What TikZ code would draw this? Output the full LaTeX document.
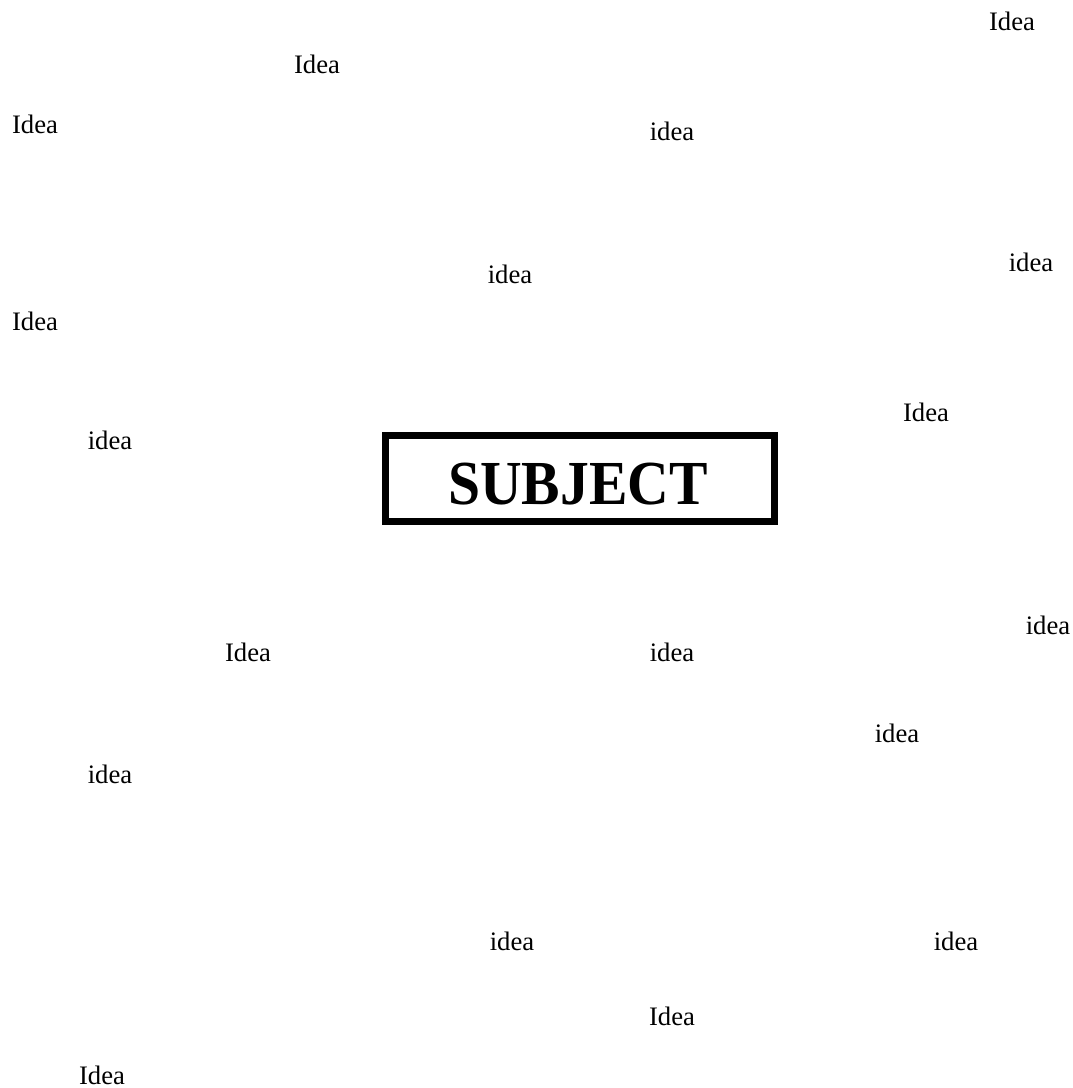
\documentclass[tikz,border=0pt]{standalone}
\usepackage{fontspec}
\setmainfont{Liberation Serif}
\usepackage{graphicx}
\usepackage{tikz}

\begin{document}
\begin{tikzpicture}[x=0.75pt, y=-0.75pt, every node/.style={font=\fontsize{20}{24}\selectfont, inner sep=0pt}, subjbox/.style={draw, line width=5pt, minimum width=291.75pt, minimum height=64.5pt}, subjtext/.style={font=\fontsize{47}{52}\selectfont\bfseries}]
	\useasboundingbox (0,0) rectangle (1073,1088);
	\node (subjectbox) [subjbox] at (580,478.5) {};
	\node (subject) [subjtext] at (578,484) {\scalebox{0.92}[1]{SUBJECT}};
	% ideas above the subject
	\node (ia) at (1012,21) {Idea};
	\node (ib) at (317,64) {Idea};
	\node (ic) at (35,124) {Idea};
	\node (id) at (672,131) {idea};
	\node (ie) at (1031,262) {idea};
	\node (if) at (510,274) {idea};
	\node (ig) at (35,321) {Idea};
	\node (ih) at (926,412) {Idea};
	\node (ii) at (110,440) {idea};
	% ideas below the subject
	\node (ij) at (1048,625) {idea};
	\node (ik) at (248,652) {Idea};
	\node (il) at (672,652) {idea};
	\node (im) at (897,733) {idea};
	\node (in) at (110,774) {idea};
	\node (io) at (512,941) {idea};
	\node (ip) at (956,941) {idea};
	\node (iq) at (672,1016) {Idea};
	\node (ir) at (102,1075) {Idea};
\end{tikzpicture}
\end{document}
